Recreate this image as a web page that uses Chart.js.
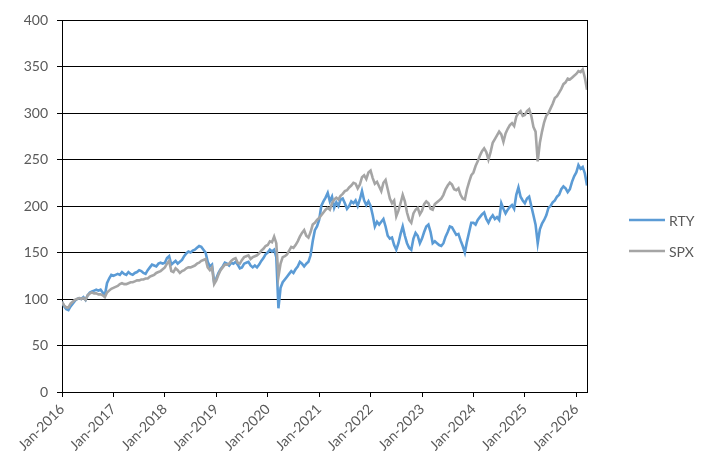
<!DOCTYPE html>
<html>
<head>
<meta charset="utf-8">
<script src="https://cdn.jsdelivr.net/npm/chart.js@4.4.0/dist/chart.umd.min.js"></script>
<style>
  html, body { margin: 0; padding: 0; background: #ffffff; }
  #wrap { width: 713px; height: 471px; position: relative; }
</style>
</head>
<body>
<div id="wrap"><canvas id="c" width="713" height="471"></canvas></div>
<script>
// ---- Data (semi-monthly samples) ----
const startYear = 2016;
const samplesPerYear = 24;
const seriesNames = ['RTY', 'SPX'];
const yearTicks = [2016, 2017, 2018, 2019, 2020, 2021, 2022, 2023, 2024, 2025, 2026];
const yTicks = [0, 50, 100, 150, 200, 250, 300, 350, 400];

const rty = [
  // 2016
  97, 92, 89, 88, 92, 95, 98, 100, 101, 100, 102, 99, 104, 107, 108, 109, 110, 109, 110, 107, 104, 117, 122, 126,
  // 2017
  125, 126, 127, 126, 129, 127, 126, 129, 127, 126, 128, 129, 131, 130, 128, 127, 131, 134, 137, 136, 135, 138, 139, 138,
  // 2018
  139, 144, 146, 137, 139, 141, 138, 140, 142, 146, 149, 151, 150, 152, 153, 155, 157, 156, 153, 150, 140, 135, 137, 118,
  // 2019
  122, 128, 132, 135, 139, 138, 136, 139, 138, 140, 137, 133, 134, 138, 139, 140, 136, 134, 136, 134, 137, 141, 144, 148,
  // 2020
  150, 153, 151, 153, 145, 90, 112, 118, 121, 124, 127, 130, 128, 132, 135, 140, 138, 135, 138, 140, 147, 162, 174, 178,
  // 2021
  185, 200, 205, 209, 214, 205, 210, 198, 204, 200, 207, 208, 203, 197, 200, 205, 203, 206, 200, 207, 216, 206, 201, 205,
  // 2022
  200, 190, 178, 183, 180, 183, 186, 178, 168, 165, 166, 158, 153, 160, 170, 178, 168, 160, 155, 153, 165, 171, 168, 160,
  // 2023
  165, 172, 178, 180, 172, 160, 162, 160, 158, 157, 160, 167, 172, 178, 177, 173, 169, 170, 163, 157, 150, 162, 172, 182,
  // 2024
  182, 180, 185, 188, 191, 193, 186, 182, 187, 190, 186, 188, 185, 203, 197, 192, 196, 199, 201, 197, 212, 220, 210, 206,
  // 2025
  203, 208, 210, 200, 190, 180, 160, 175, 181, 185, 190, 198, 200, 204, 206, 210, 212, 218, 221, 219, 215, 218, 226, 232,
  // 2026
  236, 244, 240, 242, 235, 222
];

const spx = [
  // 2016
  97, 93, 91, 91, 95, 97, 99, 100, 101, 100, 101, 99, 104, 106, 107, 106, 106, 105, 105, 104, 102, 107, 109, 111,
  // 2017
  112, 113, 114, 116, 117, 116, 116, 117, 118, 118, 119, 120, 120, 121, 121, 122, 122, 124, 125, 126, 128, 129, 130, 132,
  // 2018
  134, 138, 141, 130, 129, 133, 131, 128, 130, 131, 133, 134, 134, 135, 136, 138, 139, 141, 142, 143, 134, 131, 134, 116,
  // 2019
  120, 126, 131, 134, 137, 137, 138, 141, 143, 144, 139, 138, 142, 145, 146, 147, 143, 145, 146, 147, 149, 152, 154, 157,
  // 2020
  158, 162, 161, 167, 160, 124, 138, 145, 146, 148, 152, 156, 155, 158, 162, 167, 171, 174, 168, 166, 172, 180, 182, 185,
  // 2021
  187, 190, 193, 196, 198, 196, 203, 207, 209, 207, 211, 213, 216, 217, 220, 222, 225, 224, 219, 223, 231, 233, 229, 236,
  // 2022
  238, 230, 224, 226, 221, 216, 225, 228, 218, 208, 203, 206, 189, 195, 203, 212, 205, 193, 185, 182, 192, 196, 198, 191,
  // 2023
  195, 202, 205, 203, 197, 196, 202, 204, 206, 208, 212, 218, 222, 225, 223, 218, 217, 219, 212, 208, 207, 218, 226, 233,
  // 2024
  236, 243, 248, 254, 259, 262, 258, 250, 258, 268, 272, 276, 280, 277, 269, 278, 283, 287, 289, 286, 296, 300, 302, 297,
  // 2025
  298, 302, 304, 297, 285, 280, 248, 268, 280, 290, 297, 300, 305, 310, 316, 318, 322, 326, 331, 333, 337, 336, 338, 340,
  // 2026
  342, 345, 344, 347, 338, 325
];

const colors = ['#5B9BD5', '#A5A5A5'];
const textColor = '#595959';
const fontFamily = 'Lato, "Liberation Sans", sans-serif';

// sample dates as decimal years
const dates = rty.map((_, i) => startYear + i / samplesPerYear);
const toPoints = arr => arr.map((v, i) => ({ x: dates[i], y: v }));

const legendPlugin = {
  id: 'sideLegend',
  afterDraw(chart) {
    const ctx = chart.ctx;
    const x0 = chart.chartArea.right + 42;
    const rows = [220, 251];
    ctx.save();
    chart.data.datasets.forEach((ds, i) => {
      const y = rows[i];
      ctx.strokeStyle = ds.borderColor;
      ctx.lineWidth = 2.5;
      ctx.beginPath();
      ctx.moveTo(x0, y);
      ctx.lineTo(x0 + 36, y);
      ctx.stroke();
      ctx.fillStyle = textColor;
      ctx.font = '14px ' + fontFamily;
      ctx.textBaseline = 'middle';
      ctx.textAlign = 'left';
      ctx.fillText(ds.label, x0 + 40, y + 1);
    });
    ctx.restore();
  }
};

const monthNames = ['Jan','Feb','Mar','Apr','May','Jun','Jul','Aug','Sep','Oct','Nov','Dec'];

new Chart(document.getElementById('c'), {
  type: 'line',
  data: {
    datasets: [
      { label: seriesNames[0], data: toPoints(rty), borderColor: colors[0], backgroundColor: colors[0],
        borderWidth: 2.6, pointRadius: 0, tension: 0, order: 1 },
      { label: seriesNames[1], data: toPoints(spx), borderColor: colors[1], backgroundColor: colors[1],
        borderWidth: 2.6, pointRadius: 0, tension: 0, order: 0 }
    ]
  },
  options: {
    responsive: false,
    animation: false,
    devicePixelRatio: 1,
    layout: { padding: { left: 0, right: 126, top: 20, bottom: 0 } },
    plugins: { legend: { display: false }, tooltip: { enabled: false } },
    scales: {
      x: {
        type: 'linear',
        min: dates[0],
        max: dates[dates.length - 1],
        afterBuildTicks: s => { s.ticks = yearTicks.map(v => ({ value: v })); },
        afterFit: s => { s.height = 79; },
        ticks: {
          autoSkip: false,
          maxRotation: 45,
          minRotation: 45,
          padding: 4,
          color: textColor,
          font: { family: fontFamily, size: 14 },
          callback: v => monthNames[0] + '-' + Math.round(v)
        },
        grid: { drawOnChartArea: false, drawTicks: true, tickLength: 5, color: '#000000', lineWidth: 1 },
        border: { display: true, color: '#000000', width: 1 }
      },
      y: {
        min: 0,
        max: 400,
        afterBuildTicks: s => { s.ticks = yTicks.map(v => ({ value: v })); },
        afterFit: s => { s.width = 62; },
        ticks: {
          padding: 9,
          color: textColor,
          font: { family: fontFamily, size: 14 }
        },
        grid: { color: '#000000', lineWidth: 1, tickLength: 5, drawTicks: true },
        border: { display: true, color: '#000000', width: 1 }
      },
      y2: {
        position: 'right',
        min: 0,
        max: 400,
        afterFit: s => { s.width = 0; },
        ticks: { display: false },
        grid: { drawOnChartArea: false, drawTicks: false },
        border: { display: true, color: '#000000', width: 1 }
      }
    }
  },
  plugins: [legendPlugin]
});
</script>
</body>
</html>
